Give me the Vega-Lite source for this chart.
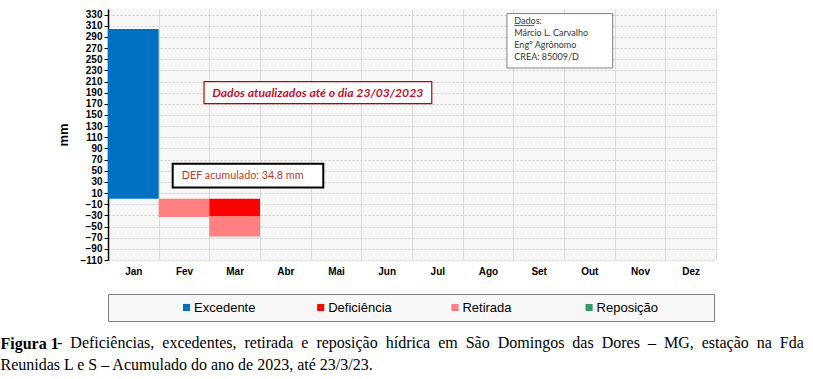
{
  "$schema": "https://vega.github.io/schema/vega-lite/v6.json",
  "background": "white",
  "padding": {"left": 0, "top": 9, "right": 0, "bottom": 0},
  "config": {"view": {"stroke": null}, "font": "Liberation Sans"},
  "title": {"text": "Figura 1", "subtitle": "Reunidas L e S – Acumulado do ano de 2023, até 23/3/23.", "orient": "bottom", "anchor": "start", "frame": "bounds", "font": "Liberation Serif", "fontSize": 16, "fontWeight": "bold", "color": "black", "subtitleFont": "Liberation Serif", "subtitleFontSize": 16, "subtitleFontWeight": "normal", "subtitleColor": "black", "subtitlePadding": 5, "offset": 0, "dx": -56, "dy": -16, "baseline": "top"},
  "spacing": 17,
  "vconcat": [
    {
      "width": 608,
      "height": 251,
      "view": {"fill": "#f7f7f7", "stroke": null},
      "resolve": {"scale": {"x": "independent"}},
      "layer": [
        {
          "data": {"values": [
            {"mes": "Jan", "tipo": "Excedente", "valor": 304, "ord": 1},
            {"mes": "Fev", "tipo": "Retirada", "valor": -33, "ord": 2},
            {"mes": "Mar", "tipo": "Deficiência", "valor": -31, "ord": 1},
            {"mes": "Mar", "tipo": "Retirada", "valor": -37, "ord": 2}
          ]},
          "mark": {"type": "bar"},
          "encoding": {
            "x": {"field": "mes", "type": "nominal", "sort": ["Jan","Fev","Mar","Abr","Mai","Jun","Jul","Ago","Set","Out","Nov","Dez"],
              "scale": {"domain": ["Jan","Fev","Mar","Abr","Mai","Jun","Jul","Ago","Set","Out","Nov","Dez"], "paddingInner": 0, "paddingOuter": 0},
              "axis": {"title": null, "labelAngle": 0, "labelFontWeight": "bold", "labelFontSize": 10, "labelColor": "black", "domain": false, "ticks": false, "labelPadding": 6, "grid": true, "tickBand": "extent", "gridColor": "#d9d9d9", "gridWidth": 1}},
            "y": {"field": "valor", "type": "quantitative", "stack": "zero",
              "scale": {"domain": [-110, 340], "nice": false, "zero": false},
              "axis": {"title": "mm", "values": [-110,-90,-70,-50,-30,-10,10,30,50,70,90,110,130,150,170,190,210,230,250,270,290,310,330],
                "tickCount": 40, "labelOverlap": false, "labelBound": false,
                "labelFontWeight": "bold", "labelFontSize": 10, "labelColor": "black", "labelPadding": 2,
                "domainColor": "black", "domainWidth": 1.5, "tickColor": "black", "tickSize": 4,
                "gridColor": "#c8c8c8", "gridDash": [2, 2],
                "titleFontSize": 13, "titleFontWeight": "bold", "titleColor": "black", "titlePadding": 10}},
            "color": {"field": "tipo", "type": "nominal",
              "scale": {"domain": ["Excedente", "Deficiência", "Retirada", "Reposição"], "range": ["#0070c0", "#ff0000", "#ff8080", "#339966"]},
              "legend": null},
            "order": {"field": "ord", "type": "quantitative"}
          }
        },
        {
          "mark": {"type": "rule", "color": "#595959", "strokeWidth": 1},
          "encoding": {"y": {"datum": 0}}
        },
        {
          "mark": {"type": "rule", "color": "#a6a6a6", "strokeWidth": 1.5},
          "encoding": {"y": {"datum": 340}}
        },
        {
          "data": {"values": [{"x1": 1.895, "x2": 6.39, "y1": 209.7, "y2": 170.2}]},
          "mark": {"type": "rect", "fill": "white", "stroke": "#c00000", "strokeWidth": 1.2},
          "encoding": {
            "x": {"field": "x1", "type": "quantitative", "scale": {"domain": [0, 12]}, "axis": null},
            "x2": {"field": "x2"},
            "y": {"field": "y1", "type": "quantitative"},
            "y2": {"field": "y2"}
          }
        },
        {
          "data": {"values": [{"x": 4.14, "y": 190, "texto": "Dados atualizados até o dia 23/03/2023"}]},
          "mark": {"type": "text", "font": "Lato", "fontSize": 12.2, "fontWeight": "bold", "fontStyle": "italic", "color": "#c8102e", "align": "center", "baseline": "middle"},
          "encoding": {
            "x": {"field": "x", "type": "quantitative", "scale": {"domain": [0, 12]}, "axis": null},
            "y": {"field": "y", "type": "quantitative"},
            "text": {"field": "texto"}
          }
        },
        {
          "data": {"values": [{"x1": 1.277, "x2": 4.249, "y1": 62.4, "y2": 19.85}]},
          "mark": {"type": "rect", "fill": "white", "stroke": "black", "strokeWidth": 2},
          "encoding": {
            "x": {"field": "x1", "type": "quantitative", "scale": {"domain": [0, 12]}, "axis": null},
            "x2": {"field": "x2"},
            "y": {"field": "y1", "type": "quantitative"},
            "y2": {"field": "y2"}
          }
        },
        {
          "data": {"values": [{"x": 1.455, "y": 40.9, "texto": "DEF acumulado: 34.8 mm"}]},
          "mark": {"type": "text", "font": "Lato", "fontSize": 10.8, "color": "#c0392b", "align": "left", "baseline": "middle"},
          "encoding": {
            "x": {"field": "x", "type": "quantitative", "scale": {"domain": [0, 12]}, "axis": null},
            "y": {"field": "y", "type": "quantitative"},
            "text": {"field": "texto"}
          }
        },
        {
          "data": {"values": [{"x1": 7.874, "x2": 9.961, "y1": 331.8, "y2": 234.3}]},
          "mark": {"type": "rect", "fill": "white", "stroke": "#808080", "strokeWidth": 1},
          "encoding": {
            "x": {"field": "x1", "type": "quantitative", "scale": {"domain": [0, 12]}, "axis": null},
            "x2": {"field": "x2"},
            "y": {"field": "y1", "type": "quantitative"},
            "y2": {"field": "y2"}
          }
        },
        {
          "data": {"values": [
            {"x": 8.019, "y": 319.2, "texto": "Dados:"},
            {"x": 8.019, "y": 297.7, "texto": "Márcio L. Carvalho"},
            {"x": 8.019, "y": 276.1, "texto": "Engº Agrônomo"},
            {"x": 8.019, "y": 254.6, "texto": "CREA: 85009/D"}
          ]},
          "mark": {"type": "text", "font": "Lato", "fontSize": 9, "color": "#333333", "align": "left", "baseline": "middle"},
          "encoding": {
            "x": {"field": "x", "type": "quantitative", "scale": {"domain": [0, 12]}, "axis": null},
            "y": {"field": "y", "type": "quantitative"},
            "text": {"field": "texto"}
          }
        },
        {
          "data": {"values": [{"x1": 8.019, "x2": 8.41, "y": 310.5}]},
          "mark": {"type": "rule", "color": "#333333", "strokeWidth": 0.8},
          "encoding": {
            "x": {"field": "x1", "type": "quantitative", "scale": {"domain": [0, 12]}, "axis": null},
            "x2": {"field": "x2"},
            "y": {"field": "y", "type": "quantitative"}
          }
        }
      ]
    },
    {
      "width": 606,
      "height": 27,
      "view": {"fill": "#f7f7f7", "stroke": "#7f7f7f", "strokeWidth": 1},
      "data": {"values": [{"tipo": "Excedente"}, {"tipo": "Deficiência"}, {"tipo": "Retirada"}, {"tipo": "Reposição"}]},
      "title": {"text": "-\u00a0\u00a0Deficiências,\u00a0\u00a0excedentes,\u00a0\u00a0retirada\u00a0\u00a0e\u00a0\u00a0reposição\u00a0\u00a0hídrica\u00a0\u00a0em\u00a0\u00a0São\u00a0\u00a0Domingos\u00a0\u00a0das\u00a0\u00a0Dores\u00a0\u00a0–\u00a0\u00a0MG,\u00a0\u00a0estação\u00a0\u00a0na\u00a0\u00a0Fda",
        "orient": "bottom", "anchor": "start", "frame": "group", "font": "Liberation Serif", "fontSize": 16, "fontWeight": "normal", "color": "black", "offset": 14, "dx": -51, "baseline": "top"},
      "layer": [
        {
          "mark": {"type": "point", "shape": "square", "filled": true, "size": 50, "opacity": 1},
          "encoding": {
            "x": {"field": "tipo", "type": "nominal", "sort": null, "scale": {"type": "point", "domain": ["Excedente", "Deficiência", "Retirada", "Reposição"], "padding": 0.758, "align": 0.386}, "axis": null},
            "color": {"field": "tipo", "type": "nominal", "scale": {"domain": ["Excedente", "Deficiência", "Retirada", "Reposição"], "range": ["#0070c0", "#ff0000", "#ff8080", "#339966"]}, "legend": null}
          }
        },
        {
          "mark": {"type": "text", "align": "left", "dx": 7.5, "fontSize": 13, "font": "Liberation Sans", "color": "black", "baseline": "middle"},
          "encoding": {
            "x": {"field": "tipo", "type": "nominal", "sort": null, "scale": {"type": "point", "domain": ["Excedente", "Deficiência", "Retirada", "Reposição"], "padding": 0.758, "align": 0.386}, "axis": null},
            "text": {"field": "tipo"}
          }
        }
      ]
    }
  ]
}
